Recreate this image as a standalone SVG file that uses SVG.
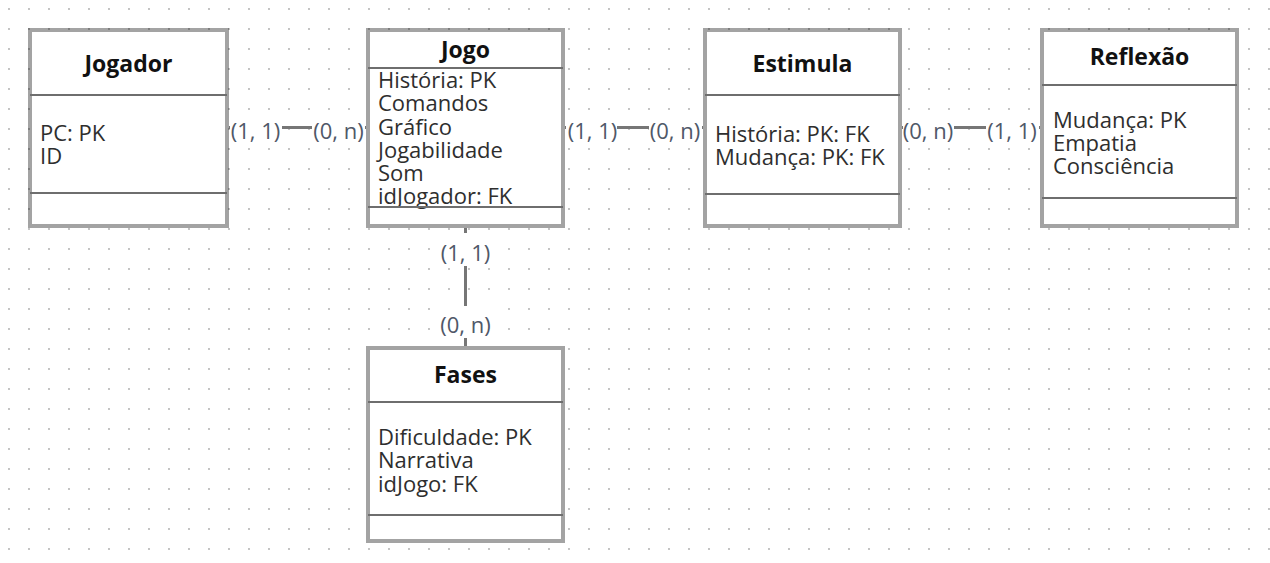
<svg xmlns="http://www.w3.org/2000/svg" width="1270" height="563" viewBox="0 0 1270 563">
<defs>
<pattern id="grid" x="0" y="0" width="20" height="20" patternUnits="userSpaceOnUse">
<circle cx="9" cy="9" r="0.9" fill="#a8a8a8"/>
</pattern>
<style>
.box{fill:#fff;stroke:#000;stroke-opacity:.36;stroke-width:4}
.div{stroke:#6e6e6e;stroke-width:2}
.title{font-family:"Open Sans","Noto Sans",sans-serif;font-weight:bold;font-size:23px;fill:#111;text-anchor:middle}
.attr{font-family:"Open Sans","Noto Sans",sans-serif;font-size:22px;fill:#2e2e2e}
.card{font-family:"Open Sans","Noto Sans",sans-serif;font-size:22px;fill:#4f5868;text-anchor:middle}
.conn{stroke:#767676;stroke-width:3;fill:none}
.lbg{fill:#fff}
</style>
</defs>
<rect width="1270" height="563" fill="#fff"/>
<rect width="1270" height="563" fill="url(#grid)"/>
<g id="connectors">
<line class="conn" x1="229" y1="127.5" x2="366" y2="127.5"/>
<line class="conn" x1="565" y1="127.5" x2="703" y2="127.5"/>
<line class="conn" x1="902" y1="127.5" x2="1040" y2="127.5"/>
<line class="conn" x1="465.5" y1="228" x2="465.5" y2="346"/>
<rect class="lbg" x="230" y="113" width="52" height="30"/>
<rect class="lbg" x="312" y="113" width="53" height="30"/>
<rect class="lbg" x="566" y="113" width="51" height="30"/>
<rect class="lbg" x="649" y="113" width="53" height="30"/>
<rect class="lbg" x="903" y="113" width="51" height="30"/>
<rect class="lbg" x="986" y="113" width="53" height="30"/>
<rect class="lbg" x="438" y="233" width="55" height="33"/>
<rect class="lbg" x="438" y="306" width="55" height="32"/>
<text class="card" x="255.5" y="139">(1, 1)</text>
<text class="card" x="338.5" y="139">(0, n)</text>
<text class="card" x="592.5" y="139">(1, 1)</text>
<text class="card" x="675" y="139">(0, n)</text>
<text class="card" x="928" y="139">(0, n)</text>
<text class="card" x="1012" y="139">(1, 1)</text>
<text class="card" x="465.5" y="261">(1, 1)</text>
<text class="card" x="465.5" y="333">(0, n)</text>
</g>
<g id="jogador">
<rect class="box" x="30" y="30" width="197" height="196"/>
<line class="div" x1="30" y1="95" x2="227" y2="95"/>
<line class="div" x1="30" y1="193" x2="227" y2="193"/>
<text class="title" x="128.5" y="72">Jogador</text>
<text class="attr" x="40" y="141">PC: PK</text>
<text class="attr" x="40" y="164">ID</text>
</g>
<g id="jogo">
<rect class="box" x="368" y="30" width="195" height="196"/>
<text class="title" x="465.5" y="58">Jogo</text>
<text class="attr" x="378" y="88">História: PK</text>
<text class="attr" x="378" y="111">Comandos</text>
<text class="attr" x="378" y="134.5">Gráfico</text>
<text class="attr" x="378" y="158">Jogabilidade</text>
<text class="attr" x="378" y="181">Som</text>
<text class="attr" x="378" y="204">idJogador: FK</text>
<line class="div" x1="368" y1="68" x2="563" y2="68"/>
<line class="div" x1="368" y1="207" x2="563" y2="207"/>
</g>
<g id="estimula">
<rect class="box" x="705" y="30" width="195" height="196"/>
<line class="div" x1="705" y1="95" x2="900" y2="95"/>
<line class="div" x1="705" y1="194" x2="900" y2="194"/>
<text class="title" x="802.5" y="72">Estimula</text>
<text class="attr" x="715" y="141.5">História: PK: FK</text>
<text class="attr" x="715" y="165">Mudança: PK: FK</text>
</g>
<g id="reflexao">
<rect class="box" x="1042" y="30" width="195" height="196"/>
<line class="div" x1="1042" y1="85" x2="1237" y2="85"/>
<line class="div" x1="1042" y1="198" x2="1237" y2="198"/>
<text class="title" x="1139.5" y="65">Reflexão</text>
<text class="attr" x="1053" y="128">Mudança: PK</text>
<text class="attr" x="1053" y="151">Empatia</text>
<text class="attr" x="1053" y="174">Consciência</text>
</g>
<g id="fases">
<rect class="box" x="368" y="348" width="195" height="193"/>
<line class="div" x1="368" y1="402" x2="563" y2="402"/>
<line class="div" x1="368" y1="515" x2="563" y2="515"/>
<text class="title" x="465.5" y="383">Fases</text>
<text class="attr" x="378" y="445">Dificuldade: PK</text>
<text class="attr" x="378" y="468">Narrativa</text>
<text class="attr" x="378" y="491.5">idJogo: FK</text>
</g>
</svg>
